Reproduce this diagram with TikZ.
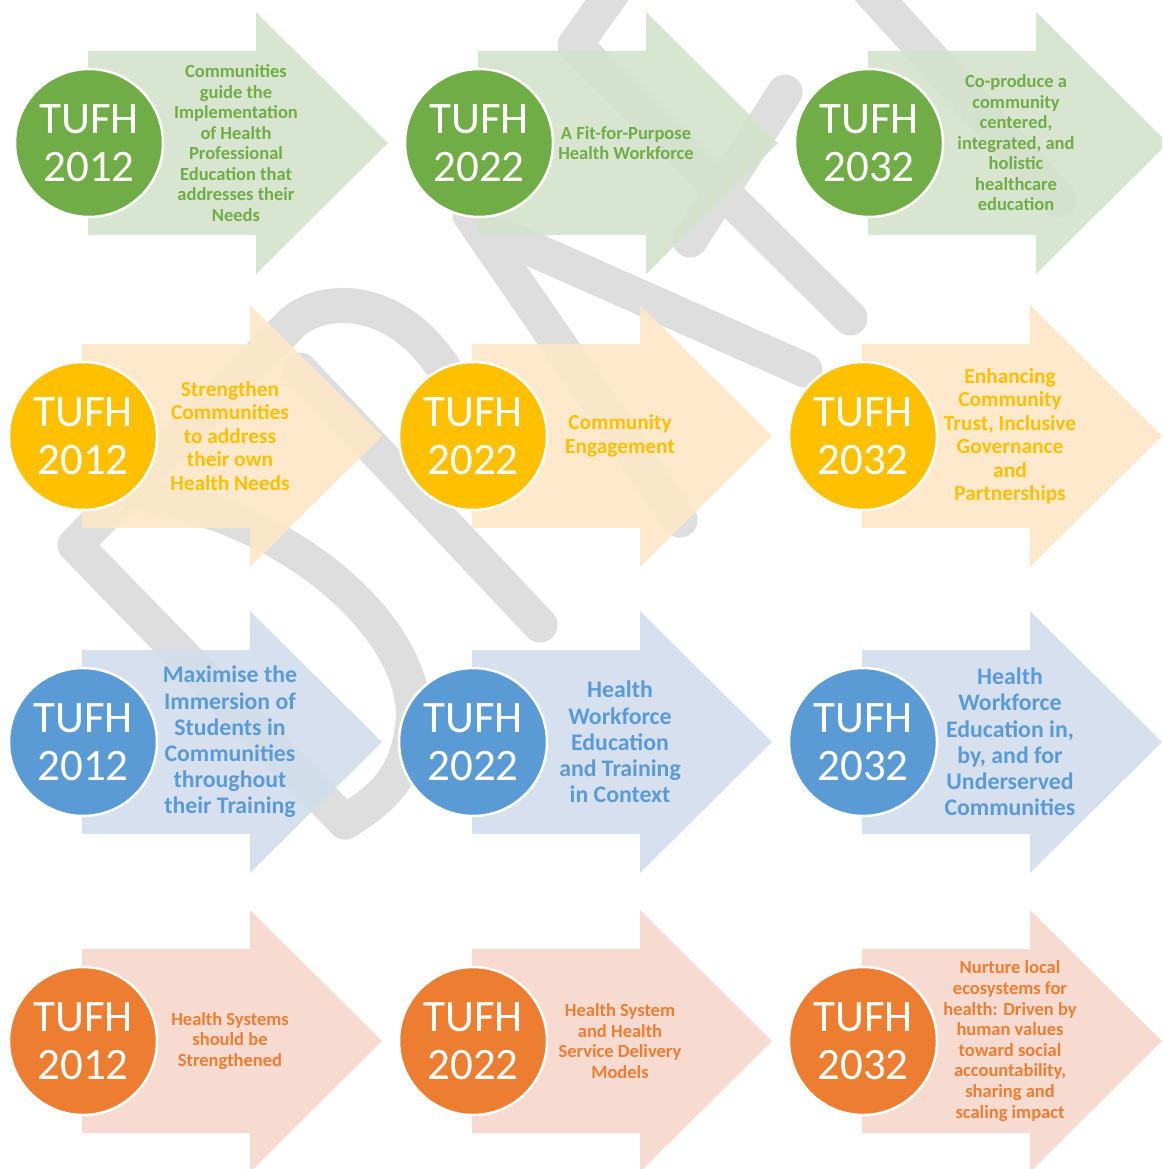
\documentclass[tikz,border=0pt]{standalone}
\usepackage{fontspec}
\setmainfont{Carlito}
\definecolor{tgreen}{HTML}{70AD47}
\definecolor{tgreenL}{RGB}{212,226,203}
\definecolor{tyellow}{HTML}{FFC000}
\definecolor{tyellowL}{RGB}{254,231,198}
\definecolor{tblue}{HTML}{5B9BD5}
\definecolor{tblueL}{RGB}{209,221,236}
\definecolor{torange}{HTML}{ED7D31}
\definecolor{torangeL}{RGB}{246,214,203}
\definecolor{wmark}{RGB}{222,222,222}

\begin{document}
\begin{tikzpicture}[x=1pt,y=-1pt,
    disc/.style={circle, draw=white, line width=2.5pt, minimum size=148pt, inner sep=0pt,
                 text=white, align=center, font=\fontsize{45}{48}\selectfont},
    blurb/.style={align=center, inner sep=0pt}]

\useasboundingbox (0,0) rectangle (1162,1169);
\clip (0,0) rectangle (1162,1169);

% watermark in the background
\begin{scope}[draw=wmark, line width=35pt, line cap=round, line join=round]
\draw (345,822) -- (75,545) -- (290,325) .. controls (320,295) and (395,292) .. (445,370);
\draw (150,497) .. controls (300,520) and (428,640) .. (412,730) .. controls (405,780) and (380,800) .. (345,822);
\draw (300,370) -- (540,625);
\draw (470,215) -- (680,520);
\draw (500,235) -- (805,370);
\draw (625,-25) -- (575,45) -- (850,318);
\draw (785,92) -- (690,240);
\draw (860,-20) -- (1060,200);
\end{scope}

% arrows
\foreach \cy/\bx/\col in {143/88/tgreenL, 436/82/tyellowL, 742/82/tblueL, 1041/82/torangeL} {
    \foreach \k in {0,1,2} {
        \fill[\col, fill opacity=0.9] ({\bx+390*\k},{\cy-92}) -- ++(168,0) -- ++(0,-39) -- ++(132,131)
            -- ++(-132,131) -- ++(0,-39) -- ++(-168,0) -- cycle;
    }
}

% year discs
\foreach \cy/\bx/\row/\col in {143/89/1/tgreen, 436/83/2/tyellow, 742/83/3/tblue, 1041/83/4/torange} {
    \foreach \yr [count=\k from 0] in {2012,2022,2032} {
        \node[disc, fill=\col] (c-\row-\yr) at ({\bx+390*\k},\cy) {TUFH\\\yr};
    }
}

% row 1
\begin{scope}[every node/.style={blurb, text=tgreen, font=\fontsize{18.5}{20.5}\selectfont\bfseries}]
\node (t-1-2012) at ([xshift=147pt]c-1-2012.center) {Communities\\guide the\\Implementation\\of Health\\Professional\\Education that\\addresses their\\Needs};
\node (t-1-2022) at ([xshift=147pt]c-1-2022.center) {A Fit-for-Purpose\\Health Workforce};
\node (t-1-2032) at ([xshift=147pt]c-1-2032.center) {Co-produce a\\community\\centered,\\integrated, and\\holistic\\healthcare\\education};
\end{scope}

% row 2
\begin{scope}[every node/.style={blurb, text=tyellow, font=\fontsize{21.4}{23.5}\selectfont\bfseries}]
\node (t-2-2012) at ([xshift=147pt]c-2-2012.center) {Strengthen\\Communities\\to address\\their own\\Health Needs};
\node (t-2-2022) at ([xshift=147pt]c-2-2022.center) {Community\\Engagement};
\node (t-2-2032) at ([xshift=147pt]c-2-2032.center) {Enhancing\\Community\\Trust, Inclusive\\Governance\\and\\Partnerships};
\end{scope}

% row 3
\begin{scope}[every node/.style={blurb, text=tblue, font=\fontsize{23.8}{26.2}\selectfont\bfseries}]
\node (t-3-2012) at ([xshift=147pt]c-3-2012.center) {Maximise the\\Immersion of\\Students in\\Communities\\throughout\\their Training};
\node (t-3-2022) at ([xshift=147pt]c-3-2022.center) {Health\\Workforce\\Education\\and Training\\in Context};
\node (t-3-2032) at ([xshift=147pt]c-3-2032.center) {Health\\Workforce\\Education in,\\by, and for\\Underserved\\Communities};
\end{scope}

% row 4
\begin{scope}[every node/.style={blurb, text=torange, font=\fontsize{18.5}{20.6}\selectfont\bfseries}]
\node (t-4-2012) at ([xshift=147pt]c-4-2012.center) {Health Systems\\should be\\Strengthened};
\node (t-4-2022) at ([xshift=147pt]c-4-2022.center) {Health System\\and Health\\Service Delivery\\Models};
\node (t-4-2032) at ([xshift=147pt]c-4-2032.center) {Nurture local\\ecosystems for\\health: Driven by\\human values\\toward social\\accountability,\\sharing and\\scaling impact};
\end{scope}

\end{tikzpicture}
\end{document}
